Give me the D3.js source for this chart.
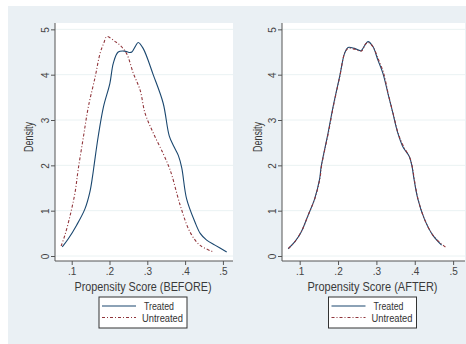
<!DOCTYPE html>
<html>
<head>
<meta charset="utf-8">
<script src="https://cdn.jsdelivr.net/npm/d3@7"></script>
<style>
  body { margin: 0; background: #fff; }
  svg { display: block; font-family: "Liberation Sans", Arial, sans-serif; }
</style>
</head>
<body>
<svg id="chart" width="466" height="344"></svg>
<script>
// density curves: [propensity score, density]
const beforeTreated = [[0.075,0.20],[0.091,0.38],[0.113,0.68],[0.135,1.04],[0.148,1.41],[0.155,1.75],[0.160,2.05],
  [0.170,2.63],[0.184,3.29],[0.201,3.81],[0.210,4.25],[0.223,4.50],[0.240,4.52],[0.252,4.49],[0.259,4.50],[0.268,4.62],
  [0.276,4.71],[0.289,4.58],[0.316,3.99],[0.342,3.37],[0.358,2.65],[0.370,2.42],[0.382,2.22],[0.391,1.95],[0.404,1.26],
  [0.426,0.75],[0.440,0.50],[0.457,0.35],[0.479,0.24],[0.510,0.09]];
const beforeUntreated = [[0.072,0.22],[0.082,0.46],[0.096,0.90],[0.109,1.41],[0.117,1.90],[0.131,2.63],[0.144,3.29],
  [0.162,3.95],[0.175,4.47],[0.185,4.70],[0.193,4.84],[0.215,4.73],[0.228,4.65],[0.245,4.47],[0.263,4.03],[0.281,3.66],
  [0.294,3.15],[0.316,2.71],[0.342,2.26],[0.356,1.99],[0.365,1.78],[0.387,1.12],[0.413,0.53],[0.439,0.24],[0.475,0.09]];
const afterTreated = [[0.070,0.16],[0.087,0.31],[0.104,0.53],[0.122,0.90],[0.139,1.26],[0.152,1.70],[0.156,1.97],
  [0.174,2.71],[0.187,3.29],[0.204,3.95],[0.217,4.47],[0.226,4.60],[0.243,4.58],[0.260,4.53],[0.270,4.65],[0.278,4.73],
  [0.291,4.62],[0.304,4.32],[0.317,4.03],[0.330,3.59],[0.343,3.15],[0.356,2.71],[0.369,2.41],[0.386,2.19],[0.393,1.97],
  [0.398,1.70],[0.408,1.26],[0.425,0.82],[0.447,0.46],[0.470,0.24]];
const afterUntreated = [[0.071,0.17],[0.088,0.32],[0.105,0.55],[0.123,0.92],[0.140,1.28],[0.153,1.72],[0.157,1.99],
  [0.175,2.73],[0.188,3.31],[0.205,3.98],[0.218,4.49],[0.227,4.58],[0.244,4.56],[0.261,4.52],[0.271,4.67],[0.279,4.71],
  [0.292,4.60],[0.305,4.34],[0.318,4.06],[0.331,3.57],[0.344,3.13],[0.357,2.70],[0.370,2.43],[0.387,2.17],[0.394,1.95],
  [0.399,1.68],[0.409,1.24],[0.426,0.80],[0.448,0.45],[0.468,0.28],[0.480,0.20]];

const xTicks = [0.1, 0.2, 0.3, 0.4, 0.5];
const yTicks = [0, 1, 2, 3, 4, 5];
const seriesNames = ["Treated", "Untreated"];
const panelTitles = ["Propensity Score (BEFORE)", "Propensity Score (AFTER)"];

const NAVY = "#1a476f";
const MAROON = "#90353b";
const DASH = "3,2,1,2";

const svg = d3.select("#chart");

// graph region background
svg.append("rect").attr("x", 8).attr("y", 6).attr("width", 458).attr("height", 338).attr("fill", "#eaf0f4");

const panels = [
  {left: 55, right: 233, xdom: [0.0558, 0.5267], data: [beforeTreated, beforeUntreated],
    title: panelTitles[0], titleLen: 137, ylabX: 33},
  {left: 282, right: 465, xdom: [0.0539, 0.531], data: [afterTreated, afterUntreated],
    title: panelTitles[1], titleLen: 130, ylabX: 262}
];

const plotTop = 23, plotBottom = 261;
const y = d3.scaleLinear().domain([-0.11, 5.14]).range([plotBottom, plotTop]);

panels.forEach(function(p) {
  const x = d3.scaleLinear().domain(p.xdom).range([p.left, p.right]);
  const g = svg.append("g");

  g.append("rect").attr("x", p.left).attr("y", plotTop)
    .attr("width", p.right - p.left).attr("height", plotBottom - plotTop).attr("fill", "#fff");

  // grid
  g.selectAll(".grid").data(yTicks).enter().append("line")
    .attr("x1", p.left).attr("x2", p.right)
    .attr("y1", d => y(d)).attr("y2", d => y(d))
    .attr("stroke", "#eaf2f3").attr("stroke-width", 1);

  // y axis
  const ya = g.append("g").attr("transform", "translate(" + p.left + ",0)")
    .call(d3.axisLeft(y).tickValues(yTicks).tickSize(4).tickPadding(6).tickFormat(d3.format("d")));
  ya.select(".domain").attr("d", "M0," + plotTop + "V" + plotBottom).attr("stroke", "#555");
  ya.selectAll(".tick line").attr("stroke", "#555");
  ya.selectAll(".tick text")
    .attr("transform", "rotate(-90)").attr("x", 0).attr("y", -10).attr("dy", "0.35em")
    .attr("text-anchor", "middle").attr("fill", "#444").style("font-size", "10px");

  // x axis
  const xa = g.append("g").attr("transform", "translate(0," + plotBottom + ")")
    .call(d3.axisBottom(x).tickValues(xTicks).tickSize(4).tickPadding(3)
      .tickFormat(d => d3.format(".1f")(d).replace(/^0/, "")));
  xa.select(".domain").attr("d", "M" + p.left + ",0H" + p.right).attr("stroke", "#555");
  xa.selectAll(".tick line").attr("stroke", "#555");
  xa.selectAll(".tick text").attr("fill", "#444").style("font-size", "10px");

  // axis titles
  g.append("text").attr("x", (p.left + p.right) / 2 - 1).attr("y", 291)
    .attr("text-anchor", "middle").attr("fill", "#3a3a3a").style("font-size", "13px")
    .attr("textLength", p.titleLen).attr("lengthAdjust", "spacingAndGlyphs").text(p.title);
  g.append("text").attr("transform", "translate(" + p.ylabX + "," + 137 + ") rotate(-90)")
    .attr("text-anchor", "middle").attr("fill", "#3a3a3a").style("font-size", "12.5px")
    .attr("textLength", 30).attr("lengthAdjust", "spacingAndGlyphs").text("Density");

  // curves
  const line = d3.line().x(d => x(d[0])).y(d => y(d[1])).curve(d3.curveCatmullRom);
  g.append("path").datum(p.data[0]).attr("d", line)
    .attr("fill", "none").attr("stroke", NAVY).attr("stroke-width", 1.1);
  g.append("path").datum(p.data[1]).attr("d", line)
    .attr("fill", "none").attr("stroke", MAROON).attr("stroke-width", 1.1).attr("stroke-dasharray", DASH);

  // legend
  const cx = (p.left + p.right) / 2 - 1;
  const lg = g.append("g").attr("transform", "translate(" + (cx - 44) + ",297)");
  lg.append("rect").attr("width", 88).attr("height", 31).attr("fill", "#fff").attr("stroke", "#333").attr("stroke-width", 1);
  seriesNames.forEach(function(name, i) {
    const ly = 9 + i * 11.5;
    lg.append("line").attr("x1", 3).attr("x2", 37).attr("y1", ly).attr("y2", ly)
      .attr("stroke", i ? MAROON : NAVY).attr("stroke-width", 1.1)
      .attr("stroke-dasharray", i ? DASH : null);
    lg.append("text").attr("x", i ? 43 : 45).attr("y", ly).attr("dy", "0.35em")
      .attr("fill", "#333").style("font-size", "11.5px")
      .attr("textLength", i ? 41 : 30).attr("lengthAdjust", "spacingAndGlyphs").text(name);
  });
});
</script>
</body>
</html>
